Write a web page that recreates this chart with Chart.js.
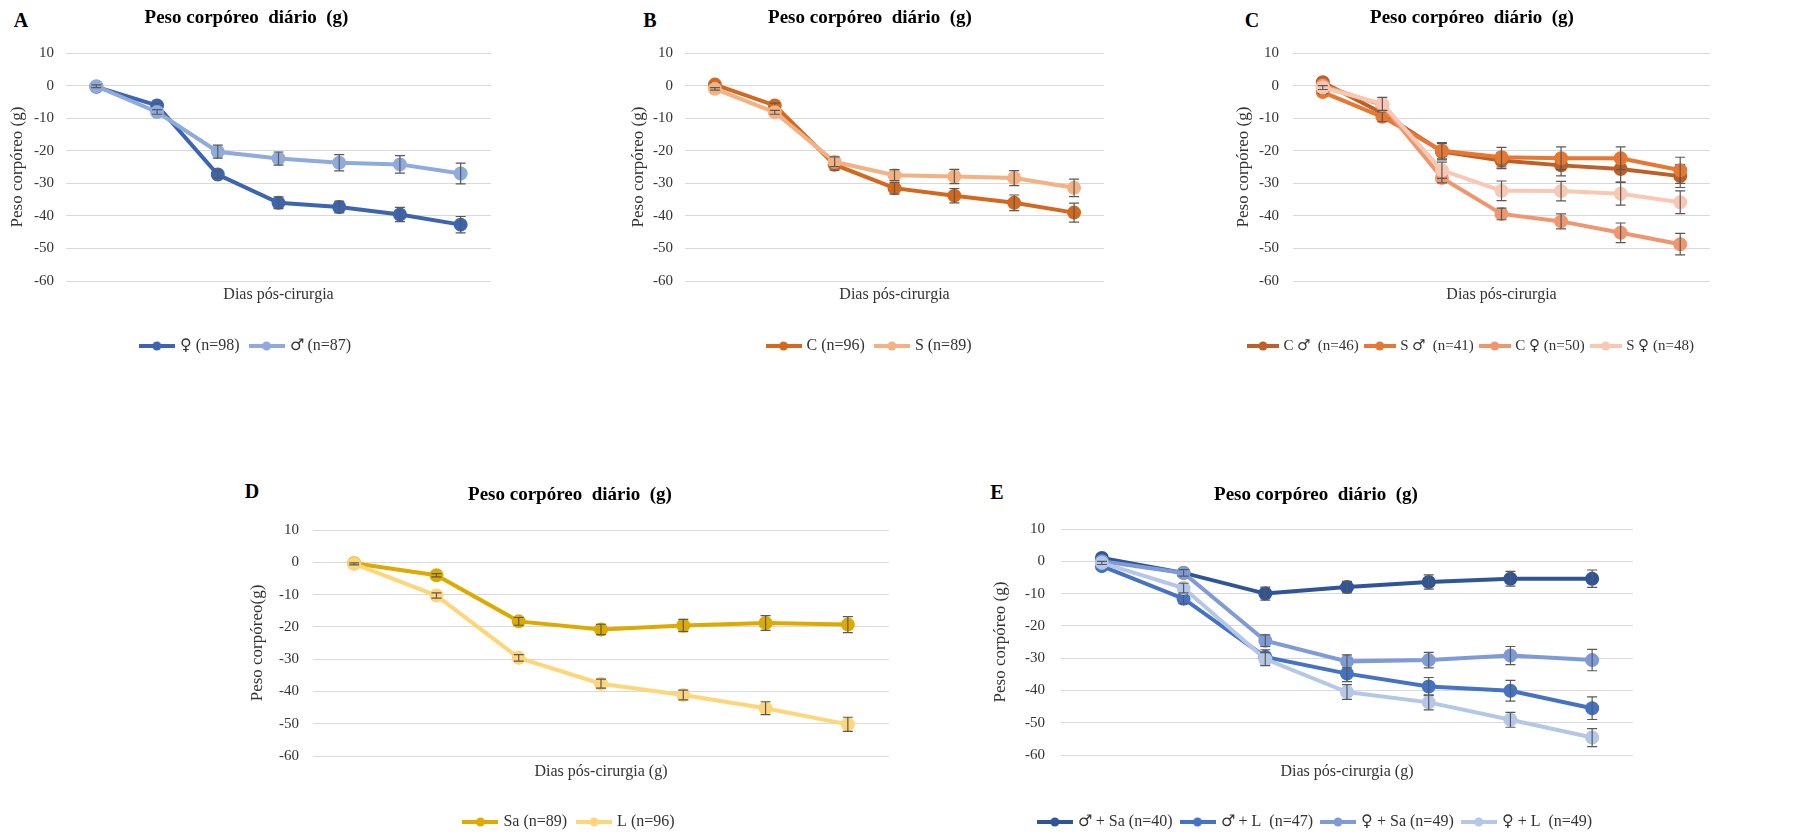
<!DOCTYPE html>
<html>
<head>
<meta charset="utf-8">
<script src="https://cdn.jsdelivr.net/npm/chart.js@4.4.0/dist/chart.umd.min.js"></script>
<style>
  @font-face { font-family: 'GenderSym'; src: local('DejaVu Sans'), local('DejaVuSans'); unicode-range: U+2640-2642; }
  html, body { margin: 0; padding: 0; background: #fff; overflow: hidden; }
  body { width: 1798px; height: 836px; position: relative; }
  canvas { position: absolute; }
  .tag { position: absolute; font: bold 20px 'Liberation Serif', serif; transform: translate(-50%, -50%); }
</style>
</head>
<body>
<div class="tag" style="left:21px;top:20px">A</div>
<div class="tag" style="left:650px;top:20px">B</div>
<div class="tag" style="left:1252px;top:20px">C</div>
<div class="tag" style="left:252px;top:491px">D</div>
<div class="tag" style="left:997px;top:492px">E</div>
<canvas id="chartA"></canvas>
<canvas id="chartB"></canvas>
<canvas id="chartC"></canvas>
<canvas id="chartD"></canvas>
<canvas id="chartE"></canvas>
<script>
// dias pós-cirurgia (eixo x sem rótulos no original)
var days = ['1', '2', '3', '4', '5', '6', '7'];

// A
var aFem = [-0.4, -6.1, -27.3, -36.0, -37.3, -39.6, -42.7];
var aFemErr = [0.5, 0.6, 1.1, 1.8, 1.8, 2.2, 2.5];
var aMale = [-0.2, -8.1, -20.3, -22.4, -23.7, -24.2, -27.0];
var aMaleErr = [0.4, 0.7, 2.0, 2.0, 2.5, 2.7, 3.2];

// B
var bC = [0.3, -6.1, -24.3, -31.5, -33.8, -36.0, -39.0];
var bCErr = [0.5, 0.7, 1.7, 1.8, 2.2, 2.4, 2.9];
var bS = [-1.0, -8.2, -23.4, -27.5, -27.9, -28.4, -31.4];
var bSErr = [0.4, 0.6, 1.5, 1.7, 2.2, 2.3, 2.7];

// C
var cCMale = [1.0, -8.5, -20.3, -23.0, -24.5, -25.6, -27.8];
var cCMaleErr = [0.5, 1.0, 2.5, 2.5, 3.2, 4.0, 3.5];
var cSMale = [-2.0, -9.6, -20.0, -22.0, -22.3, -22.3, -26.0];
var cSMaleErr = [0.5, 1.5, 2.5, 3.0, 3.5, 3.5, 4.0];
var cCFem = [0.0, -6.0, -28.4, -39.4, -41.7, -45.2, -48.7];
var cCFemErr = [0.6, 1.0, 1.5, 1.8, 2.3, 3.0, 3.3];
var cSFem = [-0.6, -5.6, -26.0, -32.3, -32.4, -33.2, -35.8];
var cSFemErr = [0.6, 2.0, 2.5, 3.0, 3.0, 3.5, 3.5];

// D
var dSa = [-0.3, -4.0, -18.3, -20.8, -19.6, -18.8, -19.3];
var dSaErr = [0.3, 0.5, 1.2, 1.6, 1.9, 2.3, 2.5];
var dL = [-0.5, -10.3, -29.6, -37.6, -41.1, -45.2, -50.2];
var dLErr = [0.3, 0.8, 1.0, 1.4, 1.5, 2.0, 2.2];

// E
var eMaleSa = [1.0, -3.6, -10.0, -8.0, -6.4, -5.4, -5.4];
var eMaleSaErr = [0.5, 1.0, 2.0, 1.8, 2.2, 2.3, 2.7];
var eMaleL = [-1.5, -11.6, -29.6, -34.8, -38.8, -40.1, -45.5];
var eMaleLErr = [0.5, 1.5, 2.2, 2.5, 2.8, 3.2, 3.5];
var eFemSa = [0.0, -3.6, -24.6, -31.0, -30.6, -29.2, -30.6];
var eFemSaErr = [0.5, 1.0, 1.8, 2.0, 2.4, 2.8, 3.3];
var eFemL = [-0.5, -8.3, -30.3, -40.5, -43.7, -49.1, -54.6];
var eFemLErr = [0.5, 1.5, 2.0, 2.3, 2.3, 2.3, 2.8];

var serif = "'Liberation Serif', 'DejaVu Serif', serif";
var legendFont = "'GenderSym', 'Liberation Serif', 'DejaVu Serif', serif";

// barras de erro desenhadas pela escala y de cada gráfico
var errorBars = {
    id: 'errorBars',
    afterDatasetDraw: function (chart, args) {
        var ds = chart.data.datasets[args.index];
        if (!ds.errors) return;
        var y = chart.scales.y, ctx = chart.ctx;
        ctx.save();
        ctx.strokeStyle = '#595959';
        ctx.lineWidth = 1.2;
        args.meta.data.forEach(function (pt, i) {
            var v = ds.data[i], e = ds.errors[i];
            var top = y.getPixelForValue(v + e), bot = y.getPixelForValue(v - e);
            ctx.beginPath();
            ctx.moveTo(pt.x, top); ctx.lineTo(pt.x, bot);
            ctx.moveTo(pt.x - 5, top); ctx.lineTo(pt.x + 5, top);
            ctx.moveTo(pt.x - 5, bot); ctx.lineTo(pt.x + 5, bot);
            ctx.stroke();
        });
        ctx.restore();
    }
};

function legendIcon(color, w) {
    var c = document.createElement('canvas');
    c.width = w; c.height = 10;
    var g = c.getContext('2d');
    g.strokeStyle = color; g.lineWidth = 4;
    g.beginPath(); g.moveTo(0, 5); g.lineTo(w, 5); g.stroke();
    g.fillStyle = color;
    g.beginPath(); g.arc(w / 2, 5, 4.5, 0, Math.PI * 2); g.fill();
    return c;
}

function series(label, data, errors, color, i) {
    return {
        label: label, data: data, errors: errors,
        borderColor: color, backgroundColor: color,
        pointBackgroundColor: color, pointBorderColor: color,
        borderWidth: 4, pointRadius: 5, pointHoverRadius: 5,
        tension: 0, order: -i
    };
}

function panel(id, p, xTitle, datasets) {
    var cv = document.getElementById(id);
    cv.width = p.w; cv.height = p.h;
    cv.style.left = p.left + 'px'; cv.style.top = p.top + 'px';
    var lgPad = p.lgPad || 12, fs = p.lgFont || 16, box = p.lgBox || 30;
    var legendTop = p.lgY - (lgPad + fs / 2);
    var axTop = p.axY - p.plotBottom - 9.6;
    var axBottom = legendTop - p.plotBottom - 19.2 - axTop;
    var padBottom = p.h - (legendTop + fs + lgPad + 10);
    new Chart(cv.getContext('2d'), {
        type: 'line',
        data: { labels: days, datasets: datasets },
        plugins: [errorBars],
        options: {
            responsive: false,
            animation: false,
            layout: { padding: { left: 0, right: p.padRight, top: 0, bottom: padBottom } },
            plugins: {
                tooltip: { enabled: false },
                title: {
                    display: true,
                    text: 'Peso corpóreo  diário  (g)',
                    color: '#000',
                    font: { family: serif, size: 19, weight: 'bold' },
                    padding: { top: p.tY - 11.4, bottom: p.plotTop - p.tY - 11.4 }
                },
                legend: {
                    position: 'bottom',
                    labels: {
                        usePointStyle: true,
                        pointStyleWidth: box,
                        padding: lgPad,
                        color: '#333',
                        font: { family: legendFont, size: fs },
                        generateLabels: function (chart) {
                            return chart.data.datasets.map(function (ds, i) {
                                return {
                                    text: ds.label, datasetIndex: i,
                                    pointStyle: legendIcon(ds.borderColor, box + 6),
                                    fillStyle: ds.borderColor, strokeStyle: ds.borderColor,
                                    lineWidth: 0, fontColor: '#333', hidden: false
                                };
                            });
                        }
                    }
                }
            },
            scales: {
                x: {
                    offset: true,
                    grid: { display: false, drawTicks: false },
                    border: { display: false },
                    ticks: { display: false },
                    title: {
                        display: true, text: xTitle, color: '#333',
                        font: { family: serif, size: 16 },
                        padding: { top: axTop, bottom: axBottom }
                    }
                },
                y: {
                    min: -60, max: 10,
                    ticks: { stepSize: 10, color: '#333', padding: p.tickPad, font: { family: serif, size: 15 } },
                    grid: { color: '#d9d9d9', lineWidth: 1, drawTicks: false },
                    border: { display: false },
                    title: {
                        display: true, text: p.yTitle || 'Peso corpóreo (g)', color: '#333',
                        font: { family: serif, size: 17 },
                        padding: { top: p.yTitlePad, bottom: 0 }
                    },
                    afterFit: function (scale) { scale.width = p.yW; }
                }
            }
        }
    });
}

function drawAll() {
    panel('chartA', { left: 0, top: 0, w: 500, h: 372, yW: 66, padRight: 7, tY: 18, plotTop: 53, plotBottom: 281, axY: 295, lgY: 346, tickPad: 12, yTitlePad: 7.8 },
        'Dias pós-cirurgia', [
            series('♀ (n=98)', aFem, aFemErr, '#3C64B1', 0),
            series('♂ (n=87)', aMale, aMaleErr, '#8FAADC', 1)
        ]);

    panel('chartB', { left: 627, top: 0, w: 486, h: 372, yW: 58, padRight: 0, tY: 18, plotTop: 53, plotBottom: 281, axY: 295, lgY: 346, tickPad: 12, yTitlePad: 1 },
        'Dias pós-cirurgia', [
            series('C (n=96)', bC, bCErr, '#D2691E', 0),
            series('S (n=89)', bS, bSErr, '#F4B183', 1)
        ]);

    panel('chartC', { left: 1225, top: 0, w: 494, h: 372, yW: 68, padRight: 0, tY: 18, plotTop: 53, plotBottom: 281, axY: 295, lgY: 346, tickPad: 14, yTitlePad: 8, lgFont: 15, lgBox: 26, lgPad: 8 },
        'Dias pós-cirurgia', [
            series('C ♂  (n=46)', cCMale, cCMaleErr, '#BE5F28', 0),
            series('S ♂  (n=41)', cSMale, cSMaleErr, '#E67832', 1),
            series('C ♀ (n=50)', cCFem, cCFemErr, '#F0966E', 2),
            series('S ♀ (n=48)', cSFem, cSFemErr, '#F8C8B4', 3)
        ]);

    panel('chartD', { left: 242, top: 470, w: 656, h: 372, yW: 71, padRight: 0, tY: 25, plotTop: 60, plotBottom: 286, axY: 302, lgY: 352, tickPad: 14, yTitlePad: 5, yTitle: 'Peso corpóreo(g)' },
        'Dias pós-cirurgia (g)', [
            series('Sa (n=89)', dSa, dSaErr, '#DCAA00', 0),
            series('L (n=96)', dL, dLErr, '#FFD57A', 1)
        ]);

    panel('chartE', { left: 990, top: 470, w: 652, h: 372, yW: 71, padRight: 0, tY: 25, plotTop: 59, plotBottom: 285, axY: 302, lgY: 352, tickPad: 16, yTitlePad: 0.5, lgPad: 10 },
        'Dias pós-cirurgia (g)', [
            series('♂ + Sa (n=40)', eMaleSa, eMaleSaErr, '#2F5597', 0),
            series('♂ + L  (n=47)', eMaleL, eMaleLErr, '#4472C4', 1),
            series('♀ + Sa (n=49)', eFemSa, eFemSaErr, '#7F9BD7', 2),
            series('♀ + L  (n=49)', eFemL, eFemLErr, '#B4C7E7', 3)
        ]);
}

if (document.fonts && document.fonts.load) {
    document.fonts.load("16px 'GenderSym'", '♀♂').then(drawAll, drawAll);
} else {
    drawAll();
}
</script>
</body>
</html>
